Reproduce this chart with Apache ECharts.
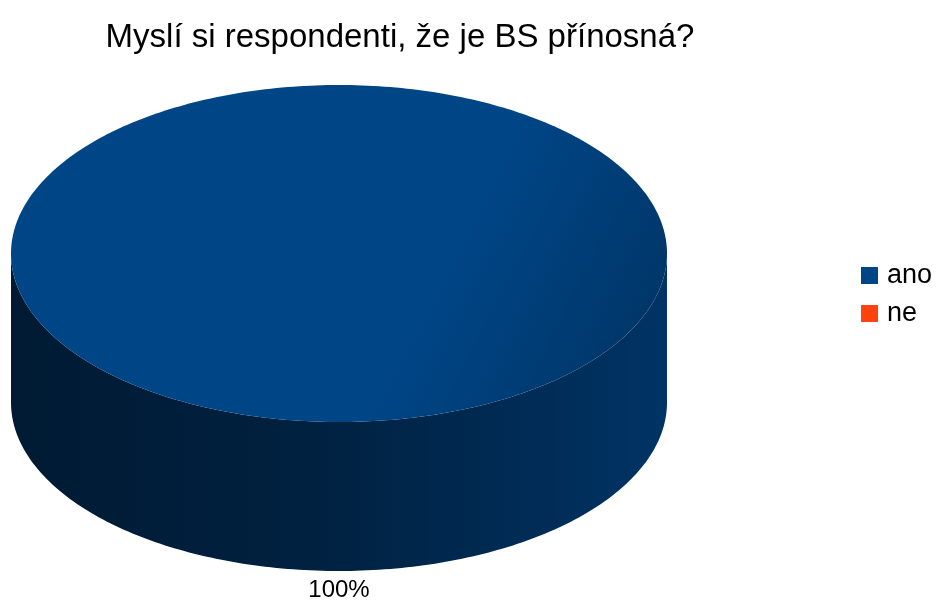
<!DOCTYPE html>
<html>
<head>
<meta charset="utf-8">
<title>Myslí si respondenti, že je BS přínosná?</title>
<script src="https://cdn.jsdelivr.net/npm/echarts@6/dist/echarts.min.js"></script>
<style>
  html, body { margin: 0; padding: 0; background: #ffffff; }
  #chart { width: 938px; height: 600px; }
</style>
</head>
<body>
<div id="chart"></div>
<script>
// Survey answers
var categories = ['ano', 'ne'];
var values = [100, 0];
var sliceColors = ['#004586', '#ff420e'];
var titleText = 'Myslí si respondenti, že je BS přínosná?';

// 3D pie geometry (screen pixels)
var CX = 339, CY = 253.5, RX = 328, RY = 168.5, DEPTH = 149;

var total = values.reduce(function (a, b) { return a + b; }, 0);
var starts = [];
(function () {
  var acc = 0;
  for (var i = 0; i < values.length; i++) { starts.push(acc); acc += values[i]; }
})();

function shade(hex, k) {
  var n = parseInt(hex.slice(1), 16);
  var r = Math.round(((n >> 16) & 255) * k);
  var g = Math.round(((n >> 8) & 255) * k);
  var b = Math.round((n & 255) * k);
  return 'rgb(' + r + ',' + g + ',' + b + ')';
}

function pt(theta, dy) {
  return [CX + RX * Math.cos(theta), CY + RY * Math.sin(theta) + (dy || 0)];
}

function arcPoints(a0, a1, dy) {
  var pts = [];
  var steps = Math.max(2, Math.ceil(Math.abs(a1 - a0) / (Math.PI / 180)));
  for (var s = 0; s <= steps; s++) {
    pts.push(pt(a0 + (a1 - a0) * s / steps, dy));
  }
  return pts;
}

function renderSlice(params, api) {
  var idx = params.seriesIndex;
  var v = api.value(0);
  if (!total || v <= 0) return { type: 'group', children: [] };
  var frac0 = starts[idx] / total;
  var frac1 = (starts[idx] + v) / total;
  // start at the top of the ellipse, clockwise on screen
  var a0 = -Math.PI / 2 + frac0 * 2 * Math.PI;
  var a1 = -Math.PI / 2 + frac1 * 2 * Math.PI;
  var base = sliceColors[idx];
  var children = [];

  // visible front wall: angles whose sine is positive
  var windows = [[0, Math.PI], [2 * Math.PI, 3 * Math.PI], [-2 * Math.PI, -Math.PI]];
  windows.forEach(function (w) {
    var s = Math.max(a0, w[0]), e = Math.min(a1, w[1]);
    if (e > s) {
      var top = arcPoints(s, e, 0);
      var bottom = arcPoints(e, s, DEPTH);
      children.push({
        type: 'polygon',
        shape: { points: top.concat(bottom) },
        style: {
          fill: new echarts.graphic.LinearGradient(0, 0, 1, 0, [
            { offset: 0, color: shade(base, 0.38) },
            { offset: 0.45, color: shade(base, 0.48) },
            { offset: 0.8, color: shade(base, 0.64) },
            { offset: 1, color: shade(base, 0.76) }
          ])
        }
      });
    }
  });

  // top face
  var topPts = (frac1 - frac0 >= 0.9999) ? arcPoints(a0, a1, 0) : [[CX, CY]].concat(arcPoints(a0, a1, 0));
  children.push({
    type: 'polygon',
    shape: { points: topPts },
    style: {
      fill: new echarts.graphic.LinearGradient(0, 0, 1, 1, [
        { offset: 0, color: base },
        { offset: 0.64, color: base },
        { offset: 1, color: shade(base, 0.72) }
      ])
    }
  });

  // percentage label outside the slice
  var mid = (a0 + a1) / 2;
  var pct = Math.round(v / total * 100) + '%';
  var lx = CX + (RX + 4) * Math.cos(mid);
  var ly = CY + (RY + 4) * Math.sin(mid) + (Math.sin(mid) > 0 ? DEPTH : 0);
  children.push({
    type: 'text',
    style: {
      text: pct,
      x: lx,
      y: ly + 15,
      fill: '#000000',
      fontSize: 24,
      fontFamily: 'Liberation Sans, Arial, sans-serif',
      align: 'center',
      verticalAlign: 'middle'
    }
  });

  return { type: 'group', children: children };
}

var series = categories.map(function (name, i) {
  return {
    type: 'custom',
    name: name,
    coordinateSystem: 'none',
    renderItem: renderSlice,
    itemStyle: { color: sliceColors[i] },
    data: [[values[i]]],
    silent: true,
    animation: false
  };
});

var chart = echarts.init(document.getElementById('chart'), null, { renderer: 'canvas' });
chart.setOption({
  backgroundColor: '#ffffff',
  animation: false,
  title: {
    text: titleText,
    left: 395,
    textAlign: 'center',
    top: 16,
    textStyle: {
      fontFamily: 'Liberation Sans, Arial, sans-serif',
      fontSize: 33,
      fontWeight: 'normal',
      color: '#000000'
    }
  },
  legend: {
    data: categories,
    orient: 'vertical',
    left: 861,
    top: 262,
    padding: 0,
    icon: 'rect',
    itemWidth: 17,
    itemHeight: 17,
    itemGap: 11,
    selectedMode: false,
    textStyle: {
      fontFamily: 'Liberation Sans, Arial, sans-serif',
      fontSize: 27,
      color: '#000000',
      padding: [0, 0, 0, 4]
    }
  },
  series: series
});
</script>
</body>
</html>
